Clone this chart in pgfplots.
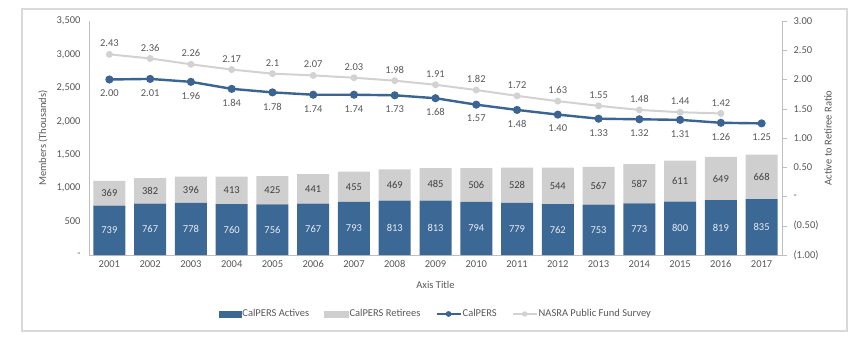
\documentclass[border=0pt]{standalone}
\usepackage{fontspec}
\setmainfont{Carlito}
\usepackage{pgfplots}
\usepackage{pgfplotstable}
\pgfplotsset{compat=1.18}
\definecolor{actblue}{HTML}{3C6896}
\definecolor{retgray}{HTML}{CFCFCF}
\definecolor{calline}{HTML}{3A6491}
\definecolor{nasgray}{HTML}{D2D2D2}
\definecolor{txtgray}{HTML}{595959}
\definecolor{axgray}{HTML}{BFBFBF}
\definecolor{framegray}{HTML}{D9D9D9}

\pgfplotstableread{
x act ret
0 739 369
1 767 382
2 778 396
3 760 413
4 756 425
5 767 441
6 793 455
7 813 469
8 813 485
9 794 506
10 779 528
11 762 544
12 753 567
13 773 587
14 800 611
15 819 649
16 835 668
}\members

\pgfplotstableread{
x cal callab
0 2.00 2.00
1 2.01 2.01
2 1.96 1.96
3 1.84 1.84
4 1.78 1.78
5 1.74 1.74
6 1.74 1.74
7 1.73 1.73
8 1.68 1.68
9 1.57 1.57
10 1.48 1.48
11 1.40 1.40
12 1.33 1.33
13 1.32 1.32
14 1.31 1.31
15 1.26 1.26
16 1.25 1.25
}\calpers

\pgfplotstableread{
x nas naslab
0 2.43 2.43
1 2.36 2.36
2 2.26 2.26
3 2.17 2.17
4 2.10 2.1
5 2.07 2.07
6 2.03 2.03
7 1.98 1.98
8 1.91 1.91
9 1.82 1.82
10 1.72 1.72
11 1.63 1.63
12 1.55 1.55
13 1.48 1.48
14 1.44 1.44
15 1.42 1.42
}\nasra

\begin{document}
\begin{tikzpicture}[font=\fontsize{10.5pt}{12pt}\selectfont]
\useasboundingbox (0pt,0pt) rectangle (850pt,354pt);
\fill[white] (0pt,0pt) rectangle (850pt,354pt);
\draw[framegray, line width=1.2pt] (22pt,23pt) rectangle (847pt,345pt);

% bars
\begin{axis}[at={(89pt,99pt)}, anchor=south west, scale only axis,
  width=693pt, height=234pt,
  ybar stacked, bar width=32pt,
  xmin=-0.5, xmax=16.5, ymin=0, ymax=3500,
  axis x line*=bottom, axis y line*=left,
  axis line style={axgray, -},
  xtick={0,...,16},
  xticklabels={2001,2002,2003,2004,2005,2006,2007,2008,2009,2010,2011,2012,2013,2014,2015,2016,2017},
  ytick={0,500,1000,1500,2000,2500,3000,3500},
  yticklabels={-,500,{1,000},{1,500},{2,000},{2,500},{3,000},{3,500}},
  tick style={draw=none},
  ticklabel style={text=txtgray},
  yticklabel style={xshift=-5pt},
  xticklabel style={yshift=-2pt},
  /pgf/number format/assume math mode=true,
  xlabel={Axis Title},
  xlabel style={at={(axis description cs:0.5,-0.128)}, anchor=center, text=txtgray},
  ylabel={Members (Thousands)},
  ylabel style={at={(axis description cs:-0.0664,0.5)}, anchor=center, text=txtgray},
]
\addplot[fill=actblue, draw=none] table[x=x, y=act] {\members};
\addplot[fill=retgray, draw=none] table[x=x, y=ret] {\members};
\end{axis}

% bar labels
\begin{axis}[at={(89pt,99pt)}, anchor=south west, scale only axis,
  width=693pt, height=234pt,
  xmin=-0.5, xmax=16.5, ymin=0, ymax=3500,
  axis lines=none, ticks=none, clip=false]
\addplot[only marks, mark=none, nodes near coords, point meta=explicit symbolic,
  every node near coord/.append style={anchor=center, text=white!88!actblue}]
  table[x=x, y expr=\thisrow{act}/2, meta=act] {\members};
\addplot[only marks, mark=none, nodes near coords, point meta=explicit symbolic,
  every node near coord/.append style={anchor=center, text=black!75}]
  table[x=x, y expr=\thisrow{act}+\thisrow{ret}/2, meta=ret] {\members};
\end{axis}

% ratio axis
\begin{axis}[at={(89pt,99pt)}, anchor=south west, scale only axis,
  width=693pt, height=234pt,
  xmin=-0.5, xmax=16.5, ymin=-1, ymax=3,
  axis x line=none, axis y line*=right,
  axis line style={axgray, -},
  ytick={-1,-0.5,0,0.5,1,1.5,2,2.5,3},
  yticklabels={(1.00),(0.50),-,0.50,1.00,1.50,2.00,2.50,3.00},
  tick align=outside, major tick length=5pt,
  tick style={axgray},
  ticklabel style={text=txtgray},
  yticklabel style={xshift=3pt},
  /pgf/number format/assume math mode=true,
  ylabel={Active to Retiree Ratio},
  ylabel style={at={(axis description cs:1.0664,0.5)}, anchor=center, rotate=0, text=txtgray},
  clip=false,
  legend style={at={(0.5,-0.252)}, anchor=center, draw=none, fill=none,
    legend columns=4, /tikz/every even column/.append style={column sep=14pt},
    font=\fontsize{10.5pt}{12pt}\selectfont, text=txtgray,
    nodes={inner sep=1pt}},
]
\addlegendimage{legend image code/.code={\fill[actblue] (0pt,-3pt) rectangle (22pt,3pt);}}
\addlegendentry{CalPERS Actives}
\addlegendimage{legend image code/.code={\fill[retgray] (0pt,-3pt) rectangle (24pt,3pt);}}
\addlegendentry{CalPERS Retirees}
\addlegendimage{legend image code/.code={\draw[calline, line width=2.2pt] (0pt,0pt) -- (24pt,0pt); \fill[calline] (12pt,0pt) circle (2.6pt);}}
\addlegendentry{CalPERS}
\addlegendimage{legend image code/.code={\draw[nasgray, line width=2pt] (0pt,0pt) -- (24pt,0pt); \fill[nasgray] (12pt,0pt) circle (2.4pt);}}
\addlegendentry{NASRA Public Fund Survey}

\addplot[nasgray, line width=2pt, mark=*, mark size=2.4pt, mark options={fill=nasgray, draw=nasgray},
  nodes near coords, point meta=explicit symbolic,
  every node near coord/.append style={anchor=south, yshift=3pt, text=txtgray}]
  table[x=x, y=nas, meta=naslab] {\nasra};
\addplot[calline, line width=2.4pt, mark=*, mark size=2.8pt, mark options={fill=calline, draw=calline},
  nodes near coords, point meta=explicit symbolic,
  every node near coord/.append style={anchor=north, yshift=-6pt, text=txtgray}]
  table[x=x, y=cal, meta=callab] {\calpers};
\end{axis}
\end{tikzpicture}
\end{document}
